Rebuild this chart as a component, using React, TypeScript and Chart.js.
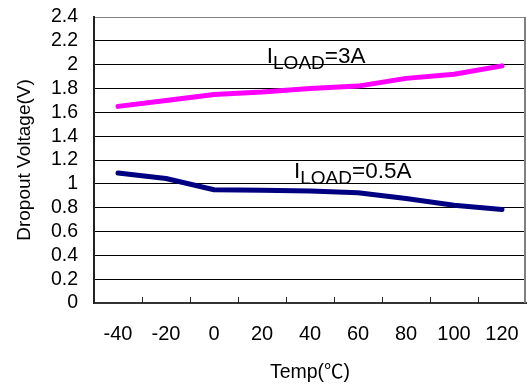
import React, { useEffect, useRef } from "react";
import { Chart, registerables } from "chart.js";

Chart.register(...registerables);

const temps = ["-40", "-20", "0", "20", "40", "60", "80", "100", "120"];
const load3A = [1.65, 1.70, 1.75, 1.77, 1.80, 1.82, 1.885, 1.92, 1.99];
const load05A = [1.09, 1.045, 0.95, 0.947, 0.94, 0.925, 0.877, 0.82, 0.785];
const yTickValues = [0, 0.2, 0.4, 0.6, 0.8, 1, 1.2, 1.4, 1.6, 1.8, 2, 2.2, 2.4];

const labelTexts = [
  { main: "I", sub: "LOAD", rest: "=3A" },
  { main: "I", sub: "LOAD", rest: "=0.5A" },
];
const labelAnchors = [
  { x: 3.1, y: 2.015 },
  { x: 3.667, y: 1.052 },
];

const FONT = '"Liberation Sans", Arial, "Noto Sans CJK SC", sans-serif';

const framePlugin = {
  id: "frame",
  beforeDatasetsDraw(chart: any) {
    const { ctx, chartArea } = chart;
    const xs = chart.scales.x;
    ctx.save();
    ctx.strokeStyle = "#808080";
    ctx.lineWidth = 2;
    ctx.beginPath();
    ctx.moveTo(chartArea.right - 1, chartArea.top);
    ctx.lineTo(chartArea.right - 1, chartArea.bottom);
    ctx.stroke();
    ctx.strokeStyle = "#222";
    ctx.lineWidth = 1;
    for (let i = 1; i < temps.length; i++) {
      const px = Math.round(xs.getPixelForValue(i - 0.5)) + 0.5;
      ctx.beginPath();
      ctx.moveTo(px, chartArea.bottom);
      ctx.lineTo(px, chartArea.bottom - 6);
      ctx.stroke();
    }
    ctx.restore();
  },
  afterDatasetsDraw(chart: any) {
    const { ctx } = chart;
    const xs = chart.scales.x;
    const ys = chart.scales.y;
    ctx.save();
    ctx.fillStyle = "#000";
    ctx.textBaseline = "alphabetic";
    ctx.textAlign = "left";
    labelTexts.forEach((t, i) => {
      let px = xs.getPixelForValue(labelAnchors[i].x);
      const py = ys.getPixelForValue(labelAnchors[i].y);
      ctx.font = `22.5px ${FONT}`;
      ctx.fillText(t.main, px, py);
      px += ctx.measureText(t.main).width;
      ctx.font = `19px ${FONT}`;
      ctx.fillText(t.sub, px, py + 6);
      px += ctx.measureText(t.sub).width;
      ctx.font = `22.5px ${FONT}`;
      ctx.fillText(t.rest, px, py);
    });
    ctx.restore();
  },
};

export default function App() {
  const ref = useRef<HTMLCanvasElement>(null);
  useEffect(() => {
    document.body.style.margin = "0";
    const chart = new Chart(ref.current!, {
      type: "line",
      data: {
        labels: temps,
        datasets: [
          {
            label: "ILOAD=3A",
            data: load3A,
            borderColor: "#FF00FF",
            backgroundColor: "#FF00FF",
            borderWidth: 5,
            pointRadius: 0,
            tension: 0,
            borderCapStyle: "round",
            borderJoinStyle: "round",
          },
          {
            label: "ILOAD=0.5A",
            data: load05A,
            borderColor: "#000080",
            backgroundColor: "#000080",
            borderWidth: 5,
            pointRadius: 0,
            tension: 0,
            borderCapStyle: "round",
            borderJoinStyle: "round",
          },
        ],
      },
      options: {
        responsive: false,
        animation: false,
        layout: { padding: { top: 17, right: 1, left: 0, bottom: 0 } },
        plugins: { legend: { display: false }, tooltip: { enabled: false } },
        scales: {
          x: {
            type: "category",
            offset: true,
            grid: { display: false, drawTicks: false },
            border: { display: true, color: "#333", width: 2 },
            ticks: { color: "#000", font: { family: FONT, size: 20 }, padding: 19, maxRotation: 0, autoSkip: false },
            title: {
              display: true,
              text: "Temp(℃)",
              color: "#000",
              font: { family: FONT, size: 19.5 },
              padding: { top: 0, bottom: 7 },
            },
            afterFit(scale: any) {
              scale.height = 88;
              scale.paddingLeft = 0;
              scale.paddingRight = 0;
            },
          },
          y: {
            min: 0,
            max: 2.4,
            afterBuildTicks(scale: any) {
              scale.ticks = yTickValues.map((v) => ({ value: v }));
            },
            grid: {
              color: (c: any) => (c.tick && c.tick.value === 2.4 ? "#808080" : "#000"),
              lineWidth: 1,
              drawTicks: false,
            },
            border: { display: true, color: "#222", width: 2 },
            ticks: {
              color: "#000",
              font: { family: FONT, size: 19.5 },
              padding: 16,
              autoSkip: false,
              callback: (v: any) => String(Number(Number(v).toFixed(1))),
            },
            title: {
              display: true,
              text: "Dropout Voltage(V)",
              color: "#000",
              font: { family: FONT, size: 19 },
              padding: { top: 13, bottom: 0 },
            },
            afterFit(scale: any) {
              scale.width = 94;
              scale.paddingTop = 0;
              scale.paddingBottom = 0;
            },
          },
        },
      },
      plugins: [framePlugin],
    } as any);
    return () => chart.destroy();
  }, []);
  return <canvas ref={ref} width={527} height={391} style={{ display: "block" }} />;
}
